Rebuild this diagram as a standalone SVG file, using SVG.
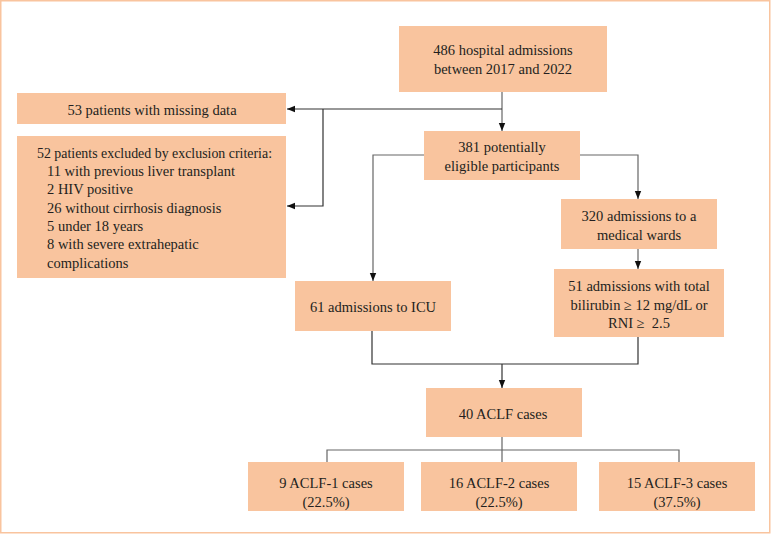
<svg xmlns="http://www.w3.org/2000/svg" width="771" height="534" viewBox="0 0 771 534">
<style>
.box{fill:#f9c49e;}
.t{font-family:"Liberation Serif","Times New Roman",serif;font-size:14.5px;fill:#231f20;}
.c{text-anchor:middle;}
.ln{fill:none;stroke:#333;stroke-width:1.2;}
.lg{fill:none;stroke:#666;stroke-width:1.2;}
</style>
<defs>
<marker id="ah" markerWidth="8" markerHeight="10" refX="10" refY="4" viewBox="0 0 10 8" orient="auto" markerUnits="userSpaceOnUse">
<path d="M0,0 L10,4 L0,8 Z" fill="#111"/>
</marker>
</defs>
<rect x="0.75" y="0.75" width="769" height="532" fill="#fff" stroke="#f9c49e" stroke-width="1.5"/>

<g id="connectors">
<path class="lg" d="M502,92 V131" marker-end="url(#ah)"/>
<path class="ln" d="M502,109 H287" marker-end="url(#ah)"/>
<path class="ln" d="M323,109 V206 H287" marker-end="url(#ah)"/>
<path class="lg" d="M424,155 H373 V281" marker-end="url(#ah)"/>
<path class="lg" d="M580,155 H638 V199" marker-end="url(#ah)"/>
<path class="lg" d="M638,249 V269" marker-end="url(#ah)"/>
<path class="ln" d="M372,331 V364 H638 V337"/>
<path class="ln" d="M502,364 V388" marker-end="url(#ah)"/>
<path class="lg" d="M502,437 V462 M327,462 V450 H679 V462"/>
</g>

<g id="n486">
<rect class="box" x="399" y="26" width="208" height="66"/>
<text class="t c" x="503" y="55">486 hospital admissions</text>
<text class="t c" x="503" y="74">between 2017 and 2022</text>
</g>
<g id="n53">
<rect class="box" x="17" y="93" width="269" height="31"/>
<text class="t c" x="152" y="115">53 patients with missing data</text>
</g>
<g id="n52">
<rect class="box" x="17" y="136" width="269" height="142"/>
<text class="t" x="37" y="158" textLength="235" lengthAdjust="spacingAndGlyphs">52 patients excluded by exclusion criteria:</text>
<text class="t" x="47" y="176">11 with previous liver transplant</text>
<text class="t" x="47" y="194">2 HIV positive</text>
<text class="t" x="47" y="212.5">26 without cirrhosis diagnosis</text>
<text class="t" x="47" y="231">5 under 18 years</text>
<text class="t" x="47" y="249">8 with severe extrahepatic</text>
<text class="t" x="47" y="267.5">complications</text>
</g>
<g id="n381">
<rect class="box" x="424" y="131" width="156" height="49"/>
<text class="t c" x="502" y="151.5">381 potentially</text>
<text class="t c" x="502" y="170.5">eligible participants</text>
</g>
<g id="n320">
<rect class="box" x="561" y="199" width="156" height="50"/>
<text class="t c" x="639" y="221">320 admissions to a</text>
<text class="t c" x="639" y="239.5">medical wards</text>
</g>
<g id="n51">
<rect class="box" x="554" y="269" width="170" height="68"/>
<text class="t c" x="639" y="291">51 admissions with total</text>
<text class="t c" x="639" y="309.5">bilirubin ≥ 12 mg/dL or</text>
<text class="t c" x="639" y="328">RNI ≥&#160; 2.5</text>
</g>
<g id="nicu">
<rect class="box" x="295" y="281" width="156" height="50"/>
<text class="t c" x="373" y="311.5">61 admissions to ICU</text>
</g>
<g id="n40">
<rect class="box" x="426" y="388" width="156" height="49"/>
<text class="t c" x="503" y="418.5">40 ACLF cases</text>
</g>
<g id="aclf1">
<rect class="box" x="248" y="462" width="156" height="49"/>
<text class="t c" x="326" y="488">9 ACLF-1 cases</text>
<text class="t c" x="326" y="507">(22.5%)</text>
</g>
<g id="aclf2">
<rect class="box" x="421" y="462" width="156" height="49"/>
<text class="t c" x="499" y="488">16 ACLF-2 cases</text>
<text class="t c" x="499" y="507">(22.5%)</text>
</g>
<g id="aclf3">
<rect class="box" x="599" y="462" width="156" height="49"/>
<text class="t c" x="677" y="488">15 ACLF-3 cases</text>
<text class="t c" x="677" y="507">(37.5%)</text>
</g>
</svg>
